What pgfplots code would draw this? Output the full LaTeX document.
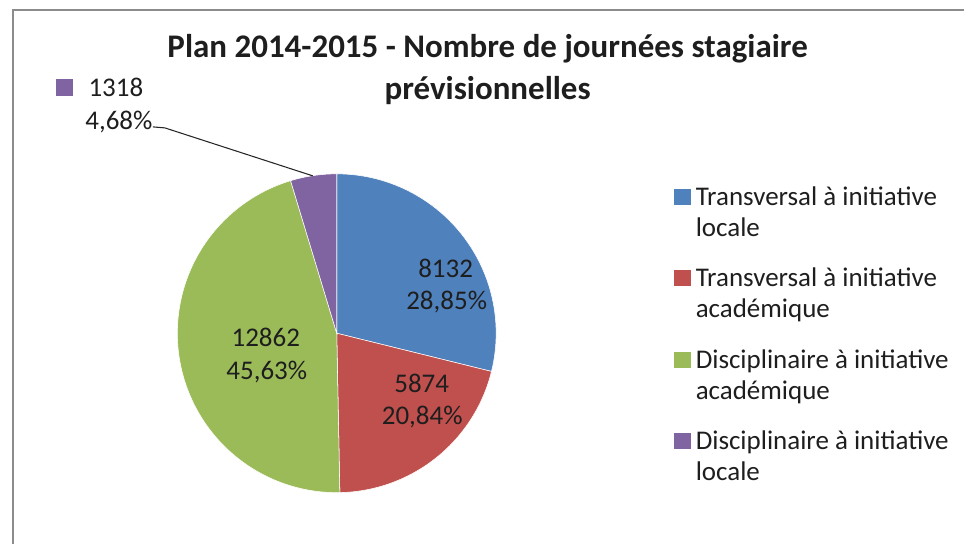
\documentclass[border=0pt]{standalone}
\usepackage{pgfplots}
\pgfplotsset{compat=1.18}
\usepackage{pgfplotstable}
\usepackage{fontspec}
\setmainfont{Carlito}
\definecolor{cBlue}{HTML}{4F81BD}
\definecolor{cRed}{HTML}{C0504D}
\definecolor{cGreen}{HTML}{9BBB59}
\definecolor{cPurple}{HTML}{8064A2}
\definecolor{cFrame}{HTML}{8C8C8C}
\definecolor{cText}{HTML}{1E1E1E}
\pgfplotstableread{
key value
TL 8132
TA 5874
DA 12862
DL 1318
}\piedata
\newcommand\labfont{\fontsize{20.25}{24}\selectfont}
\newcommand\titfont{\fontsize{24.75}{30}\selectfont\bfseries}
\begin{document}
\begin{tikzpicture}
\pgfplotstablegetelem{0}{value}\of\piedata \let\vA\pgfplotsretval
\pgfplotstablegetelem{1}{value}\of\piedata \let\vB\pgfplotsretval
\pgfplotstablegetelem{2}{value}\of\piedata \let\vC\pgfplotsretval
\pgfplotstablegetelem{3}{value}\of\piedata \let\vD\pgfplotsretval
\pgfmathsetmacro\tot{\vA/100+\vB/100+\vC/100+\vD/100}
\pgfmathsetmacro\aA{90}
\pgfmathsetmacro\aB{\aA-3.6*(\vA/\tot)}
\pgfmathsetmacro\aC{\aB-3.6*(\vB/\tot)}
\pgfmathsetmacro\aD{\aC-3.6*(\vC/\tot)}
\pgfmathsetmacro\aE{\aD-3.6*(\vD/\tot)}
\begin{axis}[
  scale only axis, width=723.75pt, height=408pt,
  xmin=0, xmax=965, ymin=0, ymax=544,
  hide axis, clip=false,
]
\path (rel axis cs:0,0) rectangle (rel axis cs:1,1);
% frame
\draw[cFrame, line width=1.1pt] (axis cs:13,0) -- (axis cs:13,534) -- (axis cs:965,534);
% pie sectors
\addplot[fill=cBlue, draw=white, line width=0.4pt, domain=\aB:\aA, samples=100]
  ({337+159.5*cos(x)},{210.5+159.5*sin(x)}) -- (axis cs:337,210.5) -- cycle;
\addplot[fill=cRed, draw=white, line width=0.4pt, domain=\aC:\aB, samples=100]
  ({337+159.5*cos(x)},{210.5+159.5*sin(x)}) -- (axis cs:337,210.5) -- cycle;
\addplot[fill=cGreen, draw=white, line width=0.4pt, domain=\aD:\aC, samples=150]
  ({337+159.5*cos(x)},{210.5+159.5*sin(x)}) -- (axis cs:337,210.5) -- cycle;
\addplot[fill=cPurple, draw=white, line width=0.4pt, domain=\aE:\aD, samples=30]
  ({337+159.5*cos(x)},{210.5+159.5*sin(x)}) -- (axis cs:337,210.5) -- cycle;
% title
\node[anchor=base, font=\titfont, text=cText, inner sep=0pt] at (axis cs:488,486) {Plan 2014-2015 - Nombre de journées stagiaire};
\node[anchor=base, font=\titfont, text=cText, inner sep=0pt] at (axis cs:488,444) {prévisionnelles};
% data labels
\node[anchor=base, font=\labfont, text=cText, inner sep=0pt] at (axis cs:446,266) {8132};
\node[anchor=base, font=\labfont, text=cText, inner sep=0pt] at (axis cs:447,234) {28,85\%};
\node[anchor=base, font=\labfont, text=cText, inner sep=0pt] at (axis cs:422,151) {5874};
\node[anchor=base, font=\labfont, text=cText, inner sep=0pt] at (axis cs:422.5,119) {20,84\%};
\node[anchor=base, font=\labfont, text=cText, inner sep=0pt] at (axis cs:266,197) {12862};
\node[anchor=base, font=\labfont, text=cText, inner sep=0pt] at (axis cs:267,164) {45,63\%};
% purple outside label
\fill[cPurple] (axis cs:56,448) rectangle (axis cs:73,465);
\node[anchor=base, font=\labfont, text=cText, inner sep=0pt] at (axis cs:116,447) {1318};
\node[anchor=base, font=\labfont, text=cText, inner sep=0pt] at (axis cs:119,414) {4,68\%};
\draw[black!85, line width=0.8pt] (axis cs:153,417) -- (axis cs:165,416) -- (axis cs:313,368);
% legend
\fill[cBlue]   (axis cs:675,339) rectangle (axis cs:692,355);
\fill[cRed]    (axis cs:675,258) rectangle (axis cs:692,274);
\fill[cGreen]  (axis cs:675,176) rectangle (axis cs:692,192);
\fill[cPurple] (axis cs:675,95)  rectangle (axis cs:692,111);
\node[anchor=base west, font=\labfont, text=cText, inner sep=0pt] at (axis cs:696,338) {Transversal à initiative};
\node[anchor=base west, font=\labfont, text=cText, inner sep=0pt] at (axis cs:696,307.5) {locale};
\node[anchor=base west, font=\labfont, text=cText, inner sep=0pt] at (axis cs:696,257) {Transversal à initiative};
\node[anchor=base west, font=\labfont, text=cText, inner sep=0pt] at (axis cs:696,226.5) {académique};
\node[anchor=base west, font=\labfont, text=cText, inner sep=0pt] at (axis cs:696,175) {Disciplinaire à initiative};
\node[anchor=base west, font=\labfont, text=cText, inner sep=0pt] at (axis cs:696,144.5) {académique};
\node[anchor=base west, font=\labfont, text=cText, inner sep=0pt] at (axis cs:696,94) {Disciplinaire à initiative};
\node[anchor=base west, font=\labfont, text=cText, inner sep=0pt] at (axis cs:696,63.5) {locale};
\end{axis}
\end{tikzpicture}
\end{document}
